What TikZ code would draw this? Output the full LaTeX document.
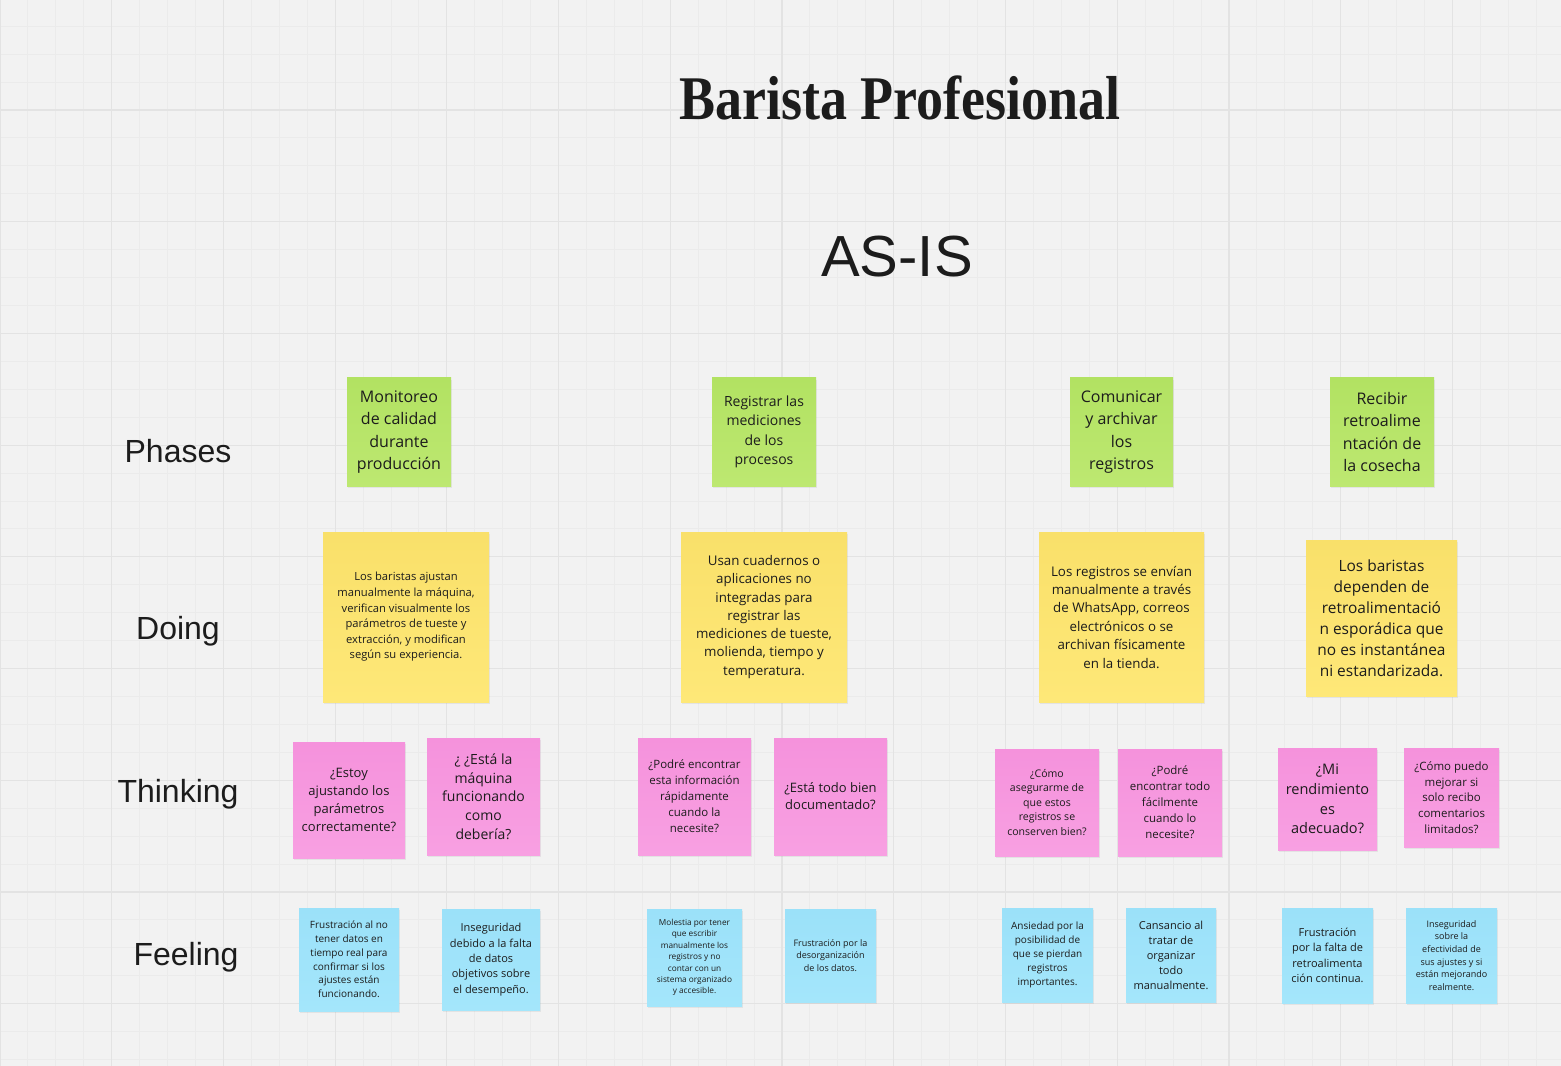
\documentclass[tikz,border=0pt]{standalone}
\usepackage{fontspec}
\setmainfont{Open Sans}
\newfontfamily\labelfont{Liberation Sans}
\newfontfamily\titlefont{Liberation Serif}
\usetikzlibrary{shadows}

\definecolor{board}{HTML}{F2F2F2}
\definecolor{minorgrid}{HTML}{EBEBEB}
\definecolor{majorgrid}{HTML}{E3E3E3}
\definecolor{ink}{HTML}{1C1C1C}
\definecolor{greentop}{HTML}{B2E262}
\definecolor{greenbot}{HTML}{BDE871}
\definecolor{yellowtop}{HTML}{F9E06A}
\definecolor{yellowbot}{HTML}{FEE878}
\definecolor{pinktop}{HTML}{F592DC}
\definecolor{pinkbot}{HTML}{F8A0E2}
\definecolor{bluetop}{HTML}{9BE1F9}
\definecolor{bluebot}{HTML}{A4E6FB}

\tikzset{
  sticky/.style={align=center, inner sep=0pt, text=ink,
    drop shadow={opacity=0.13, shadow xshift=0.4pt, shadow yshift=-1.8pt}},
  sz/.style 2 args={minimum width=#1*0.75pt, minimum height=#2*0.75pt},
  fs/.style 2 args={font=\fontsize{#1}{#2}\selectfont},
  phase/.style={sticky, top color=greentop, bottom color=greenbot},
  doing/.style={sticky, top color=yellowtop, bottom color=yellowbot},
  think/.style={sticky, top color=pinktop, bottom color=pinkbot},
  feel/.style={sticky, top color=bluetop, bottom color=bluebot},
  rowlabel/.style={text=ink, font=\labelfont\fontsize{24}{28}\selectfont}
}

\begin{document}
\begin{tikzpicture}[x=0.75pt,y=-0.75pt]
\useasboundingbox (0,0) rectangle (1561,1066);
\fill[board] (0,0) rectangle (1561,1066);
% board grid
\foreach \k in {0,...,55}
  \draw[minorgrid,line width=0.75pt] (\k*27.93,0) -- (\k*27.93,1066);
\foreach \k in {0,...,37}
  \draw[minorgrid,line width=0.75pt] (0,26.2+\k*27.93) -- (1561,26.2+\k*27.93);
\foreach \k in {0,4,...,52}
  \draw[majorgrid,line width=0.9pt] (\k*27.93,0) -- (\k*27.93,1066);
\foreach \k in {3,7,...,35}
  \draw[majorgrid,line width=0.9pt] (0,26.2+\k*27.93) -- (1561,26.2+\k*27.93);

% headings
\node[text=ink] (title) at (900,98) {\titlefont\bfseries\fontsize{40.5}{44}\selectfont\scalebox{1}[1.15]{Barista Profesional}};
\node[text=ink,font=\labelfont\fontsize{43.5}{48}\selectfont] (asis) at (897,257) {AS-IS};

% row labels
\node[rowlabel] (Lph) at (178,451) {Phases};
\node[rowlabel] (Ldo) at (178,631) {Doing};
\node[rowlabel] (Lth) at (178,794) {Thinking};
\node[rowlabel] (Lfe) at (186,957) {Feeling};

% phases
\node[phase,sz={104}{108},fs={12}{16.9}] (P1) at (399,432) {Monitoreo\\de calidad\\durante\\producción};
\node[phase,sz={104}{108},fs={10.5}{14.5}] (P2) at (764,432) {Registrar las\\mediciones\\de los\\procesos};
\node[phase,sz={103}{108},fs={12}{16.9}] (P3) at (1121.5,432) {Comunicar\\y archivar\\los\\registros};
\node[phase,sz={104}{108},fs={12}{16.9}] (P4) at (1382,432) {Recibir\\retroalime\\ntación de\\la cosecha};

% doing
\node[doing,sz={166}{170},fs={8.4}{11.7}] (D1) at (406,617) {Los baristas ajustan\\manualmente la máquina,\\verifican visualmente los\\parámetros de tueste y\\extracción, y modifican\\según su experiencia.};
\node[doing,sz={166}{170},fs={10}{13.7}] (D2) at (764,617) {Usan cuadernos o\\aplicaciones no\\integradas para\\registrar las\\mediciones de tueste,\\molienda, tiempo y\\temperatura.};
\node[doing,sz={165}{170},fs={10}{13.8}] (D3) at (1121.5,617) {Los registros se envían\\manualmente a través\\de WhatsApp, correos\\electrónicos o se\\archivan físicamente\\en la tienda.};
\node[doing,sz={151}{156},fs={11.6}{15.75}] (D4) at (1381.5,618) {Los baristas\\dependen de\\retroalimentació\\n esporádica que\\no es instantánea\\ni estandarizada.};

% thinking
\node[think,sz={112}{116},fs={9.75}{13.3}] (T1) at (349,800) {¿Estoy\\ajustando los\\parámetros\\correctamente?};
\node[think,sz={113}{117},fs={10.5}{14}] (T2) at (483.5,796.5) {¿ ¿Está la\\máquina\\funcionando\\como\\debería?};
\node[think,sz={113}{117},fs={8.6}{12}] (T3) at (694.5,796.5) {¿Podré encontrar\\esta información\\rápidamente\\cuando la\\necesite?};
\node[think,sz={113}{117},fs={9.75}{12.75}] (T4) at (830.5,796.5) {¿Está todo bien\\documentado?};
\node[think,sz={104}{107},fs={7.9}{10.9}] (T5) at (1047,802.5) {¿Cómo\\asegurarme de\\que estos\\registros se\\conserven bien?};
\node[think,sz={104}{107},fs={8.6}{12}] (T6) at (1170,802.5) {¿Podré\\encontrar todo\\fácilmente\\cuando lo\\necesite?};
\node[think,sz={99}{102},fs={10.9}{14.7}] (T7) at (1327.5,799) {¿Mi\\rendimiento\\es\\adecuado?};
\node[think,sz={95}{99},fs={8.6}{11.85}] (T8) at (1451.5,797.5) {¿Cómo puedo\\mejorar si\\solo recibo\\comentarios\\limitados?};

% feeling
\node[feel,sz={100}{103},fs={7.5}{10.35}] (F1) at (349,959.5) {Frustración al no\\tener datos en\\tiempo real para\\confirmar si los\\ajustes están\\funcionando.};
\node[feel,sz={98}{101},fs={8.25}{11.5}] (F2) at (491,959.5) {Inseguridad\\debido a la falta\\de datos\\objetivos sobre\\el desempeño.};
\node[feel,sz={95}{97},fs={6.2}{8.55}] (F3) at (694.5,957.5) {Molestia por tener\\que escribir\\manualmente los\\registros y no\\contar con un\\sistema organizado\\y accesible.};
\node[feel,sz={91}{93},fs={6.75}{9.4}] (F4) at (830.5,955.5) {Frustración por la\\desorganización\\de los datos.};
\node[feel,sz={91}{94},fs={7.5}{10.5}] (F5) at (1047.5,955) {Ansiedad por la\\posibilidad de\\que se pierdan\\registros\\importantes.};
\node[feel,sz={90}{94},fs={8.25}{11.25}] (F6) at (1171,955) {Cansancio al\\tratar de\\organizar\\todo\\manualmente.};
\node[feel,sz={91}{95},fs={8.25}{11.5}] (F7) at (1327.5,955.5) {Frustración\\por la falta de\\retroalimenta\\ción continua.};
\node[feel,sz={91}{95},fs={6.75}{9.45}] (F8) at (1451.5,955.5) {Inseguridad\\sobre la\\efectividad de\\sus ajustes y si\\están mejorando\\realmente.};
\end{tikzpicture}
\end{document}
